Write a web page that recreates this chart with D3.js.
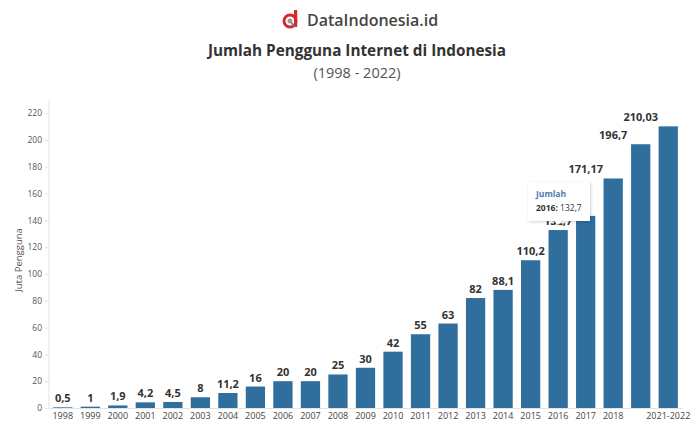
<!DOCTYPE html>
<html><head><meta charset="utf-8">
<script src="https://cdn.jsdelivr.net/npm/d3@7"></script>
<style>
html,body{margin:0;padding:0;background:#fff;}
svg{display:block;font-family:"Open Sans","Noto Sans",sans-serif;}
</style></head>
<body><svg id="c" width="691" height="425"></svg>
<script>
const categories = ["1998","1999","2000","2001","2002","2003","2004","2005","2006","2007","2008","2009","2010","2011","2012","2013","2014","2015","2016","2017","2018","2019-2020","2021-2022"];
const values = [0.5,1,1.9,4.2,4.5,8,11.2,16,20,20,25,30,42,55,63,82,88.1,110.2,132.7,143.26,171.17,196.7,210.03];
const tickLabels = ["1998","1999","2000","2001","2002","2003","2004","2005","2006","2007","2008","2009","2010","2011","2012","2013","2014","2015","2016","2017","2018","","2021-2022"];
const yTicks = [0,20,40,60,80,100,120,140,160,180,200,220];
const hiddenLabels = ["2017"];
const tooltipCat = "2016";

const svg = d3.select("#c");
const mL = 49, mR = 682, mT = 100, mB = 408;
const x = d3.scaleBand().domain(categories).range([mL, mR]).paddingInner(0.3).paddingOuter(0.15);
const y = d3.scaleLinear().domain([0, 220]).range([mB, 113]);

// header
const logo = svg.append("g").attr("transform","translate(290,20)");
logo.append("circle").attr("cx",0).attr("cy",1).attr("r",6).attr("fill","none").attr("stroke","#d7262e").attr("stroke-width",3);
logo.append("rect").attr("x",4).attr("y",-10).attr("width",3.2).attr("height",17).attr("fill","#d7262e");
logo.append("circle").attr("cx",0).attr("cy",1).attr("r",2.5).attr("fill","#9a9a9a");
logo.append("line").attr("x1",1.5).attr("y1",3).attr("x2",5).attr("y2",7).attr("stroke","#7a7a7a").attr("stroke-width",1.6);
svg.append("text").attr("x",307).attr("y",26).attr("font-size",16).attr("fill","#444").attr("font-weight",600).text("DataIndonesia.id");
svg.append("text").attr("x",357).attr("y",56).attr("text-anchor","middle").attr("font-size",15.3).attr("font-weight",700).attr("fill","#333").text("Jumlah Pengguna Internet di Indonesia");
svg.append("text").attr("x",357).attr("y",78).attr("text-anchor","middle").attr("font-size",14.5).attr("fill","#555").text("(1998 - 2022)");

// y axis
const yAxis = svg.append("g").attr("transform",`translate(${mL},0)`)
  .call(d3.axisLeft(y).tickValues(yTicks).tickSize(4).tickFormat(d3.format("d")));
yAxis.select(".domain").attr("stroke","#e3e3e3").attr("d",`M0,${mT}V${mB}`);
yAxis.selectAll(".tick line").attr("stroke","#e3e3e3");
yAxis.selectAll(".tick text").attr("font-size",8.5).attr("fill","#555").attr("x",-7).attr("font-family","'Open Sans',sans-serif");

svg.append("text").attr("transform",`translate(22,260) rotate(-90)`).attr("text-anchor","middle")
  .attr("font-size",9.5).attr("fill","#555").text("Juta Pengguna");

// x axis
const xAxis = svg.append("g").attr("transform",`translate(0,${mB})`)
  .call(d3.axisBottom(x).tickSize(0).tickFormat((d,i)=>tickLabels[i]));
xAxis.select(".domain").attr("stroke","#e3e3e3");
xAxis.selectAll(".tick text").attr("font-size",9).attr("fill","#444").attr("dy","0.9em").attr("font-family","'Open Sans',sans-serif");

// bars
svg.append("g").selectAll("rect").data(values).join("rect")
  .attr("x",(d,i)=>x(categories[i])).attr("width",x.bandwidth())
  .attr("y",d=>y(d)).attr("height",d=>mB - y(d))
  .attr("fill","#2f6e9d");

// labels
const defs = svg.append("defs");
defs.append("clipPath").attr("id","clip").append("rect").attr("x",0).attr("y",0).attr("width",681).attr("height",425);
const fmt = v => String(v).replace(".",",");
svg.append("g").attr("clip-path","url(#clip)").selectAll("text").data(values).join("text")
  .filter((d,i)=>!hiddenLabels.includes(categories[i]))
  .attr("x",(d,i)=>x(categories[i])+x.bandwidth()/2).attr("y",d=>y(d)-5)
  .attr("text-anchor","middle").attr("font-size",11).attr("font-weight",700).attr("fill","#333")
  .text(d=>fmt(d));

// tooltip
const ti = categories.indexOf(tooltipCat);
const tx = x(tooltipCat) + x.bandwidth()/2;
const tg = svg.append("g");
const filt = defs.append("filter").attr("id","sh").attr("x","-20%").attr("y","-20%").attr("width","140%").attr("height","140%");
filt.append("feDropShadow").attr("dx",1).attr("dy",1).attr("stdDeviation",1.5).attr("flood-color","#000").attr("flood-opacity",0.18);
tg.append("path").attr("d",`M528,182H590V221H${tx+4}L${tx},225L${tx-4},221H528Z`).attr("fill","#fff").attr("filter","url(#sh)");
tg.append("text").attr("x",536).attr("y",197).attr("font-size",8.5).attr("font-weight",700).attr("fill","#4a7ab0").text("Jumlah");
const t2 = tg.append("text").attr("x",536).attr("y",211).attr("font-size",8.5).attr("fill","#333");
t2.append("tspan").attr("font-weight",700).text(tooltipCat+":");
t2.append("tspan").text(" "+fmt(values[ti]));
</script></body></html>
